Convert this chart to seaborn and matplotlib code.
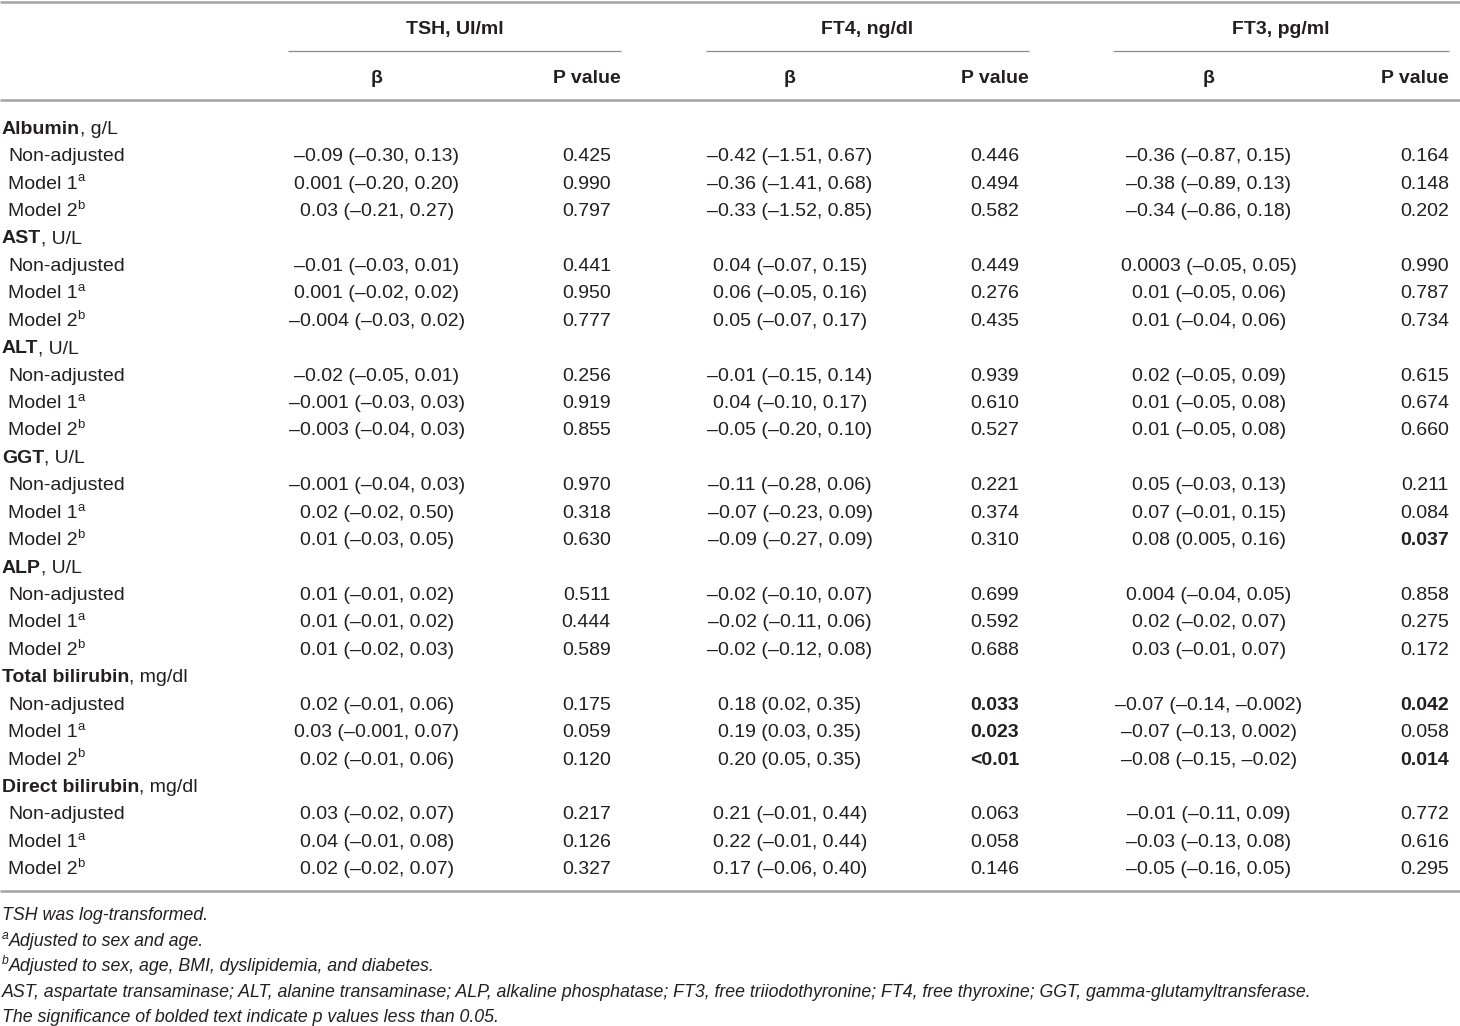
import matplotlib
matplotlib.use("Agg")
import matplotlib.pyplot as plt
import seaborn as sns
from matplotlib import font_manager

# ---------------- data ----------------
groups = ["TSH, UI/ml", "FT4, ng/dl", "FT3, pg/ml"]
sub_headers = ["β", "P value"]
categories = ["Albumin", "AST", "ALT", "GGT", "ALP", "Total bilirubin", "Direct bilirubin"]
units = ["g/L", "U/L", "U/L", "U/L", "U/L", "mg/dl", "mg/dl"]
models = ["Non-adjusted", "Model 1", "Model 2"]
model_marks = ["", "a", "b"]

tsh_beta = [
    "–0.09 (–0.30, 0.13)", "0.001 (–0.20, 0.20)", "0.03 (–0.21, 0.27)",
    "–0.01 (–0.03, 0.01)", "0.001 (–0.02, 0.02)", "–0.004 (–0.03, 0.02)",
    "–0.02 (–0.05, 0.01)", "–0.001 (–0.03, 0.03)", "–0.003 (–0.04, 0.03)",
    "–0.001 (–0.04, 0.03)", "0.02 (–0.02, 0.50)", "0.01 (–0.03, 0.05)",
    "0.01 (–0.01, 0.02)", "0.01 (–0.01, 0.02)", "0.01 (–0.02, 0.03)",
    "0.02 (–0.01, 0.06)", "0.03 (–0.001, 0.07)", "0.02 (–0.01, 0.06)",
    "0.03 (–0.02, 0.07)", "0.04 (–0.01, 0.08)", "0.02 (–0.02, 0.07)",
]
tsh_p = ["0.425", "0.990", "0.797", "0.441", "0.950", "0.777", "0.256", "0.919", "0.855",
         "0.970", "0.318", "0.630", "0.511", "0.444", "0.589", "0.175", "0.059", "0.120",
         "0.217", "0.126", "0.327"]
ft4_beta = [
    "–0.42 (–1.51, 0.67)", "–0.36 (–1.41, 0.68)", "–0.33 (–1.52, 0.85)",
    "0.04 (–0.07, 0.15)", "0.06 (–0.05, 0.16)", "0.05 (–0.07, 0.17)",
    "–0.01 (–0.15, 0.14)", "0.04 (–0.10, 0.17)", "–0.05 (–0.20, 0.10)",
    "–0.11 (–0.28, 0.06)", "–0.07 (–0.23, 0.09)", "–0.09 (–0.27, 0.09)",
    "–0.02 (–0.10, 0.07)", "–0.02 (–0.11, 0.06)", "–0.02 (–0.12, 0.08)",
    "0.18 (0.02, 0.35)", "0.19 (0.03, 0.35)", "0.20 (0.05, 0.35)",
    "0.21 (–0.01, 0.44)", "0.22 (–0.01, 0.44)", "0.17 (–0.06, 0.40)",
]
ft4_p = ["0.446", "0.494", "0.582", "0.449", "0.276", "0.435", "0.939", "0.610", "0.527",
         "0.221", "0.374", "0.310", "0.699", "0.592", "0.688", "0.033", "0.023", "<0.01",
         "0.063", "0.058", "0.146"]
ft3_beta = [
    "–0.36 (–0.87, 0.15)", "–0.38 (–0.89, 0.13)", "–0.34 (–0.86, 0.18)",
    "0.0003 (–0.05, 0.05)", "0.01 (–0.05, 0.06)", "0.01 (–0.04, 0.06)",
    "0.02 (–0.05, 0.09)", "0.01 (–0.05, 0.08)", "0.01 (–0.05, 0.08)",
    "0.05 (–0.03, 0.13)", "0.07 (–0.01, 0.15)", "0.08 (0.005, 0.16)",
    "0.004 (–0.04, 0.05)", "0.02 (–0.02, 0.07)", "0.03 (–0.01, 0.07)",
    "–0.07 (–0.14, –0.002)", "–0.07 (–0.13, 0.002)", "–0.08 (–0.15, –0.02)",
    "–0.01 (–0.11, 0.09)", "–0.03 (–0.13, 0.08)", "–0.05 (–0.16, 0.05)",
]
ft3_p = ["0.164", "0.148", "0.202", "0.990", "0.787", "0.734", "0.615", "0.674", "0.660",
         "0.211", "0.084", "0.037", "0.858", "0.275", "0.172", "0.042", "0.058", "0.014",
         "0.772", "0.616", "0.295"]

footnotes = [
    ("", "TSH was log-transformed."),
    ("a", "Adjusted to sex and age."),
    ("b", "Adjusted to sex, age, BMI, dyslipidemia, and diabetes."),
    ("", "AST, aspartate transaminase; ALT, alanine transaminase; ALP, alkaline phosphatase; "
         "FT3, free triiodothyronine; FT4, free thyroxine; GGT, gamma-glutamyltransferase."),
    ("", "The significance of bolded text indicate p values less than 0.05."),
]

# ---------------- style ----------------
sns.set_theme(style="white")
avail = {f.name for f in font_manager.fontManager.ttflist}
fam = "Liberation Sans" if "Liberation Sans" in avail else "DejaVu Sans"
plt.rcParams["font.family"] = [fam, "DejaVu Sans"]

TXT = "#231f20"
LINE = "#a3a3a3"
FS = 14
FS_FOOT = 12.8
DY_TXT = 2.2  # visual centring offset for text

fig = plt.figure(figsize=(14.6, 10.26), dpi=100)
ax = fig.add_axes([0, 0, 1, 1])
ax.set_xlim(0, 1460)
ax.set_ylim(1026, 0)
ax.axis("off")

# column layout (pixel-like coordinates)
beta_x = [377, 790, 1209]
p_right = [611, 1019, 1449]
phead_right = [621, 1029, 1449]
group_span = [(288, 621), (706, 1029), (1113, 1449)]

# rules
ax.plot([0, 1460], [2, 2], color=LINE, lw=1.8, solid_capstyle="butt")
ax.plot([0, 1460], [100, 100], color=LINE, lw=1.8, solid_capstyle="butt")
ax.plot([0, 1460], [891, 891], color=LINE, lw=1.8, solid_capstyle="butt")
for (x0, x1) in group_span:
    ax.plot([x0, x1], [51, 51], color="#8c8c8c", lw=0.9, solid_capstyle="butt")

# headers
for g, (x0, x1) in zip(groups, group_span):
    ax.text((x0 + x1) / 2, 27 + DY_TXT, g, ha="center", va="center", fontsize=FS,
            fontweight="bold", color=TXT)
for bx, pr in zip(beta_x, phead_right):
    ax.text(bx, 76 + DY_TXT + 0.5, sub_headers[0], ha="center", va="center", fontsize=FS,
            fontweight="bold", color=TXT)
    ax.text(pr, 76 + DY_TXT + 0.5, sub_headers[1], ha="right", va="center", fontsize=FS,
            fontweight="bold", color=TXT)

def is_sig(p):
    if p.startswith("<"):
        return True
    return float(p) < 0.05

# body
y0 = 127
dy = 27.43
row = 0
beta_cols = [tsh_beta, ft4_beta, ft3_beta]
p_cols = [tsh_p, ft4_p, ft3_p]
for ci, (cat, unit) in enumerate(zip(categories, units)):
    y = y0 + row * dy + DY_TXT
    t = ax.text(2, y, cat, ha="left", va="center", fontsize=FS,
                fontweight="bold", color=TXT)
    ax.annotate(", " + unit, xy=(1, 0), xycoords=t, ha="left", va="bottom",
                fontsize=FS, color=TXT)
    row += 1
    for mi, (m, mk) in enumerate(zip(models, model_marks)):
        y = y0 + row * dy + DY_TXT
        k = ci * 3 + mi
        lt = ax.text(8, y, m, ha="left", va="center", fontsize=FS, color=TXT)
        if mk:
            ax.annotate(mk, xy=(1, 0.48), xycoords=lt, ha="left", va="bottom",
                        fontsize=FS * 0.68, color=TXT)
        for j in range(3):
            ax.text(beta_x[j], y, beta_cols[j][k], ha="center", va="center",
                    fontsize=FS, color=TXT)
            p = p_cols[j][k]
            ax.text(p_right[j], y, p, ha="right", va="center", fontsize=FS,
                    color=TXT, fontweight="bold" if is_sig(p) else "normal")
        row += 1

# footnotes
fy = [913, 939, 964, 990, 1015]
for (mk, txt), y in zip(footnotes, fy):
    x = 2
    y = y + DY_TXT
    if mk:
        s = ax.text(x, y - 5, mk, ha="left", va="center", fontsize=FS_FOOT * 0.68,
                    style="italic", color=TXT)
        ax.annotate(txt, xy=(1, 0), xycoords=s, xytext=(0, -5.5), textcoords="offset points",
                    ha="left", va="bottom", fontsize=FS_FOOT, style="italic", color=TXT)
    else:
        ax.text(x, y, txt, ha="left", va="center", fontsize=FS_FOOT, style="italic",
                color=TXT)

fig.savefig("out.png", dpi=100, facecolor="white")
